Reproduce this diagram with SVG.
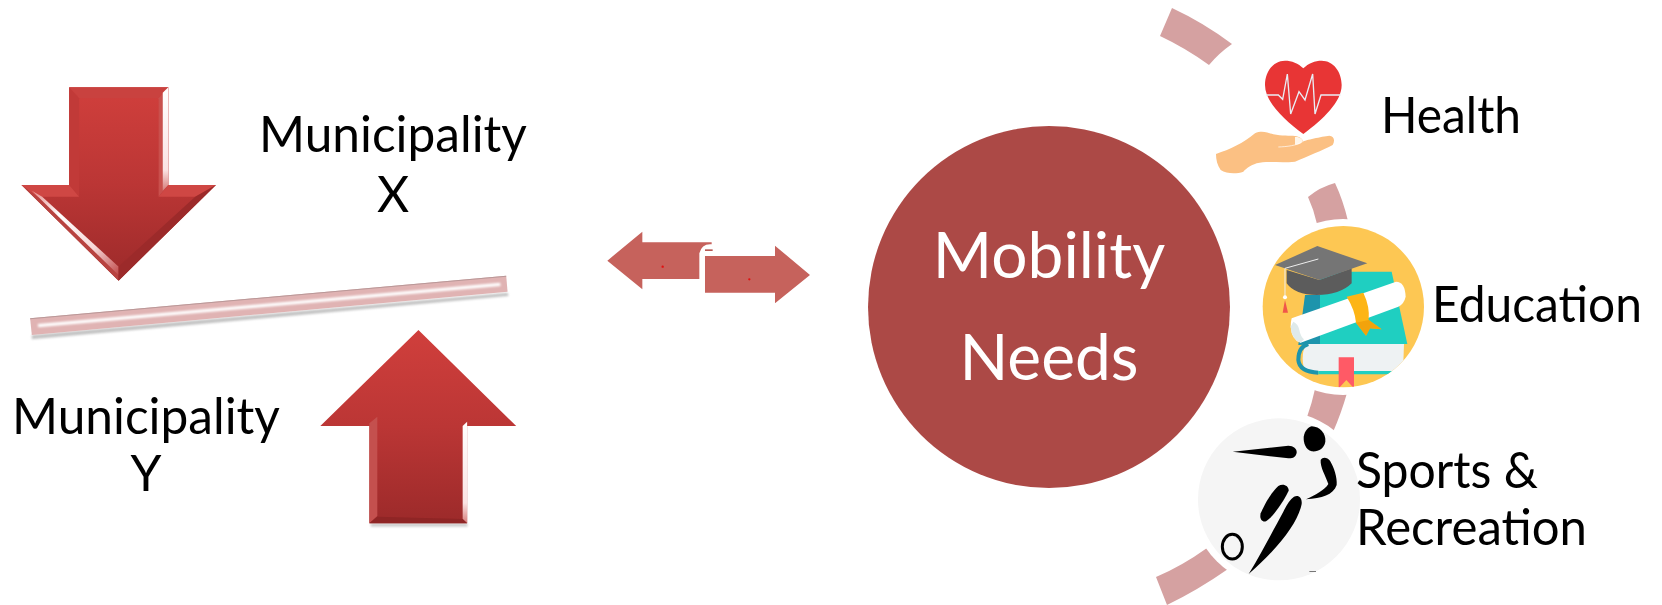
<svg xmlns="http://www.w3.org/2000/svg" width="1662" height="605" viewBox="0 0 1662 605">
<style>
text{font-family:"Lato","Carlito","Liberation Sans",sans-serif;fill:#000}
.lbl{font-size:49.6px}
.big{font-size:64px;fill:#fff;text-anchor:middle}
.mid{text-anchor:middle}
.arc{fill:#d5a1a1}
.link{fill:#c6625c}
.dot{fill:#e01010}
</style>
<defs>
<linearGradient id="redV" x1="0" y1="0" x2="0" y2="1"><stop offset="0" stop-color="#d03f3c"/><stop offset="0.5" stop-color="#bb3635"/><stop offset="1" stop-color="#9c2a2a"/></linearGradient>
<linearGradient id="glint" x1="0" y1="0" x2="1" y2="1"><stop offset="0" stop-color="#e58a88"/><stop offset="0.3" stop-color="#fff"/><stop offset="0.7" stop-color="#f7d7d7"/><stop offset="1" stop-color="#c04a4a"/></linearGradient>
<linearGradient id="glintV" x1="0" y1="0" x2="0" y2="1"><stop offset="0" stop-color="#fff"/><stop offset="0.8" stop-color="#fbe3e3"/><stop offset="1" stop-color="#d67c7a"/></linearGradient>
<filter id="soft" x="-10%" y="-60%" width="120%" height="220%"><feGaussianBlur stdDeviation="2.500"/></filter>
<filter id="soft2" x="-10%" y="-60%" width="120%" height="220%"><feGaussianBlur stdDeviation="2.500"/></filter>
<clipPath id="eduClip"><circle cx="340" cy="410" r="242"/></clipPath>
</defs>

<g id="connectors" transform="translate(590,220) scale(.33333)">
<path class="link" d="M52,122 L157,35 V67 H365 V73 H360 Q335,73 328,100 V177 H157 V208 Z"/>
<path class="link" d="M345,108 H555 V77 L660,165 L555,250 V218 H345 Z"/>
<rect x="345" y="88" width="23" height="5" fill="#b85a55"/>
<circle class="dot" cx="218" cy="140" r="3.500"/>
<circle class="dot" cx="478" cy="178" r="3.500"/>
</g>

<g id="arrow-down" transform="translate(-1,70) scale(.3455,.33333)">
<polygon points="203,52 490,52 490,345 628,345 346,632 65,345 203,345" fill="url(#redV)"/>
<polygon points="203,52 490,52 462,85 232,85" fill="#c9423f"/>
<polygon points="203,52 232,85 232,380 203,345" fill="#c13a38"/>
<polygon points="490,52 490,345 462,380 462,85" fill="#c9504d"/>
<polygon points="490,52 490,345 474,362 474,68" fill="url(#glintV)"/>
<polygon points="65,345 203,345 232,380 110,380" fill="#cf4744"/>
<polygon points="490,345 628,345 568,380 462,380" fill="#cf4744"/>
<polygon points="65,345 110,380 346,590 346,632" fill="#b84340"/>
<polygon points="95,362 125,380 346,590 346,615" fill="url(#glint)"/>
<polygon points="628,345 346,632 346,590 568,380" fill="#9c2a2a"/>
</g>

<g id="divider-bar" transform="translate(-1,70) scale(.3455,.33333)">
<polygon points="95,808 1475,678 1472,668 95,795" fill="#888" opacity=".5" filter="url(#soft)"/>
<polygon points="90,745 1468,617 1472,665 95,795" fill="#e0b3b3"/>
<polygon points="112,762 1450,638 1452,648 114,772" fill="#fff" filter="url(#soft2)"/>
<polygon points="90,745 1468,617 1468,620 90,748" fill="#b99898"/>
</g>

<g id="arrow-up" transform="translate(-1,70) scale(.3455,.33333)">
<rect x="1076" y="1360" width="280" height="10" fill="#999" opacity=".5" filter="url(#soft)"/>
<polygon points="1214,780 1497,1068 1355,1068 1355,1360 1072,1360 1072,1068 930,1068" fill="url(#redV)"/>
<polygon points="1342,1068 1355,1055 1355,1360 1342,1347" fill="url(#glintV)"/>
<polygon points="1072,1060 1095,1040 1095,1338 1072,1360" fill="#c4504e"/>
<polygon points="1072,1360 1095,1340 1342,1347 1355,1360" fill="#8f2525"/>
</g>

<g id="label-x">
<text class="lbl mid" x="393" y="152">Municipality</text>
<text class="lbl mid" x="393" y="212">X</text>
</g>
<g id="label-y">
<text class="lbl mid" x="146" y="434">Municipality</text>
<text class="lbl mid" x="146" y="491">Y</text>
</g>

<g id="ring">
<path class="arc" d="M1172,8 A335,335 0 0 1 1232,44 Q1219,53 1209,65 A305,305 0 0 0 1160,36 Z"/>
<path class="arc" d="M1308,197 Q1320,187 1335,183 Q1343,200 1348,221 Q1332,220 1317,224 Q1314,210 1308,197 Z"/>
<path class="arc" d="M1315,389 Q1332,393 1347,393 Q1341,414 1333,432 Q1321,421 1307,417 Q1312,403 1315,389 Z"/>
<path class="arc" d="M1156,577 Q1182,566 1207,548 Q1216,560 1228,569 Q1198,590 1167,605 Z"/>
</g>

<g id="mobility-needs">
<circle cx="1049" cy="307" r="181" fill="#ac4946"/>
<text class="big" x="1049" y="278">Mobility</text>
<text class="big" x="1049" y="380">Needs</text>
</g>

<g id="health">
<g transform="translate(1130,0) scale(.33333)">
<path d="M520,205 C505,190 485,182 465,182 C430,182 405,215 405,255 C405,305 460,358 520,402 C580,358 635,305 635,255 C635,215 610,182 575,182 C555,182 535,190 520,205 Z" fill="#e83535"/>
<polyline points="408,285 445,285 458,298 472,222 482,342 507,275 525,300 548,222 555,342 573,285 632,285" fill="none" stroke="#e9eef5" stroke-width="4"/>
<path d="M258,462 C300,448 340,430 375,400 C395,390 415,398 430,403 C455,408 480,407 495,408 C510,410 520,418 518,425 C525,420 575,410 598,407 C612,408 616,422 608,435 C580,450 530,470 495,485 C450,490 410,482 380,490 C360,497 350,505 340,515 C320,522 290,522 272,510 C262,495 258,480 258,462 Z" fill="#fbc083"/>
<path d="M495,411 C510,410 520,418 517,424 C512,432 503,434 495,434 Z" fill="#fff6ea"/>
<path d="M445,441 C470,440 500,437 518,425" fill="none" stroke="#fff" stroke-width="2"/>
</g>
<text class="lbl" x="1381" y="133" textLength="140" lengthAdjust="spacingAndGlyphs">Health</text>
</g>

<g id="education">
<circle cx="1343" cy="307" r="88" fill="#fff"/>
<g transform="translate(1230,170) scale(.33333)">
<circle cx="340" cy="410" r="242" fill="#fdc753"/>
<g clip-path="url(#eduClip)">
<polygon points="225,375 280,375 272,522 205,525" fill="#1d94ac"/>
<polygon points="270,305 485,305 532,522 270,522" fill="#1fcfc1"/>
<path d="M235,522 H522 L520,578 L490,605 H232 Q218,600 218,565 Q218,530 235,522 Z" fill="#eef2f3"/>
<path d="M235,522 Q205,530 205,570 Q208,605 265,608" fill="none" stroke="#1d94ac" stroke-width="12"/>
<polygon points="265,603 495,603 482,613 265,613" fill="#1fcfc1"/>
<polygon points="326,562 372,562 372,655 349,630 326,655" fill="#ff5a66"/>
<path d="M185,445 L498,335 Q525,335 527,380 Q522,402 505,410 L212,518 Q185,510 182,470 Q182,455 185,445 Z" fill="#fff"/>
<path d="M190,455 Q205,462 208,480 Q212,500 222,508 L212,518 Q185,510 182,470 Z" fill="#dfeaea"/>
<path d="M350,380 L400,368 Q420,410 416,450 L455,478 L420,475 L408,497 L378,458 Q375,420 350,380 Z" fill="#fdb515"/>
<path d="M378,458 L416,450 L455,478 L420,475 L408,497 Z" fill="#f2a30c"/>
<path d="M170,300 L268,330 L365,295 V340 Q330,375 260,375 Q195,375 170,340 Z" fill="#5c5c5c"/>
<polygon points="135,285 262,228 412,280 268,330" fill="#757575"/>
<polyline points="265,267 165,295 165,380" fill="none" stroke="#eee" stroke-width="3"/>
<circle cx="165" cy="382" r="6" fill="#fff"/>
<polygon points="165,390 174,428 158,428" fill="#f0564a"/>
</g>
</g>
<text class="lbl" x="1432" y="322" textLength="210" lengthAdjust="spacingAndGlyphs">Education</text>
</g>

<g id="sports">
<circle cx="1279" cy="499" r="88" fill="#fff"/>
<g transform="translate(1140,380) scale(.33333)">
<circle cx="417" cy="358" r="243" fill="#f5f5f5"/>
<path d="M515,139 C540,140 558,160 556,185 C553,205 535,216 515,214 C497,208 490,190 491,170 C495,152 503,143 515,139 Z" fill="#000"/>
<path d="M278,215 L445,197 C462,197 471,207 470,218 C468,230 458,236 445,235 Z" fill="#000"/>
<path d="M542,240 C548,230 562,232 570,242 C582,262 592,292 590,315 C580,345 545,355 498,358 C525,345 555,330 565,312 C558,290 540,262 542,240 Z" fill="#000"/>
<path d="M415,318 C430,308 447,318 446,332 C430,365 400,410 378,424 C365,428 358,415 362,400 C375,370 392,340 415,318 Z" fill="#000"/>
<path d="M462,350 C475,343 487,352 485,372 C475,425 420,500 326,582 C370,510 405,440 430,395 C440,375 450,358 462,350 Z" fill="#000"/>
<ellipse cx="277" cy="500" rx="30" ry="37" fill="none" stroke="#000" stroke-width="9"/>
<rect x="508" y="573" width="20" height="3" fill="#777"/>
</g>
<text class="lbl" x="1356" y="488" textLength="182" lengthAdjust="spacingAndGlyphs">Sports &amp;</text>
<text class="lbl" x="1356" y="545" textLength="231" lengthAdjust="spacingAndGlyphs">Recreation</text>
</g>
</svg>
